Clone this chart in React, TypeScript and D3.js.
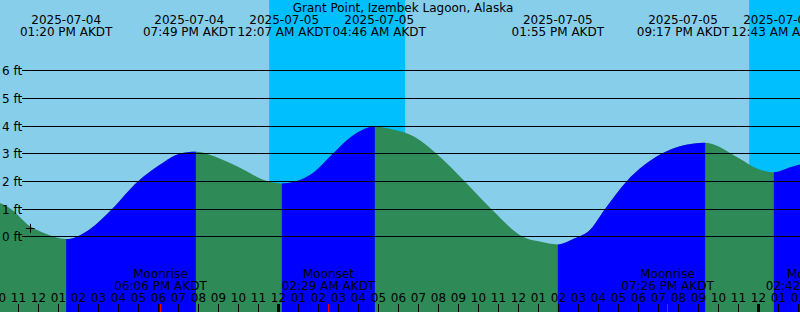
import React from "react";
import * as d3 from "d3";

const title = "Grant Point, Izembek Lagoon, Alaska";
const tz = "AKDT";

const domainStart = "2025-07-04 10:01:30";
const domainEnd = "2025-07-06 02:01:30";

const extremeTimes = ["2025-07-04 13:20", "2025-07-04 19:49", "2025-07-05 00:07", "2025-07-05 04:46", "2025-07-05 13:55", "2025-07-05 21:17", "2025-07-06 00:43"];
const extremeKinds = ["low", "high", "low", "high", "low", "high", "low"];

const curveTimes = [
  "2025-07-04 10:00", "2025-07-04 10:35", "2025-07-04 11:32", "2025-07-04 12:17", "2025-07-04 13:20",
  "2025-07-04 14:31", "2025-07-04 15:37", "2025-07-04 16:55", "2025-07-04 18:01", "2025-07-04 19:01",
  "2025-07-04 19:49", "2025-07-04 20:35", "2025-07-04 21:25", "2025-07-04 22:20", "2025-07-04 23:07", "2025-07-05 00:07", "2025-07-05 01:37",
  "2025-07-05 02:40", "2025-07-05 03:36", "2025-07-05 04:46", "2025-07-05 05:31", "2025-07-05 06:46",
  "2025-07-05 07:51", "2025-07-05 09:16", "2025-07-05 10:36", "2025-07-05 12:11", "2025-07-05 13:01",
  "2025-07-05 13:55", "2025-07-05 14:46", "2025-07-05 15:31", "2025-07-05 16:16", "2025-07-05 17:21",
  "2025-07-05 19:06", "2025-07-05 20:01", "2025-07-05 21:17", "2025-07-05 23:01", "2025-07-05 23:52",
  "2025-07-06 00:43", "2025-07-06 01:30", "2025-07-06 02:03",
];
const curveHeights = [
  1.23, 1.0, 0.38, 0.12, -0.08,
  0.28, 1.0, 2.0, 2.6, 3.0,
  3.07, 2.95, 2.7, 2.38, 2.08, 1.93, 2.28,
  3.0, 3.62, 3.98, 3.9, 3.6,
  3.0, 2.0, 1.0, 0.0, -0.17,
  -0.27, -0.05, 0.25, 1.0, 2.0,
  3.0, 3.27, 3.4, 2.82, 2.47,
  2.33, 2.5, 2.62,
];

const nightStarts = ["2025-07-04 23:29", "2025-07-05 23:29"];
const nightEnds = ["2025-07-05 06:17", "2025-07-06 06:17"];

const moonTimes = ["2025-07-04 18:06", "2025-07-05 02:29", "2025-07-05 19:26", "2025-07-06 02:42"];
const moonKinds = ["Moonrise", "Moonset", "Moonrise", "Moonset"];

const markerTime = "2025-07-04 11:32";
const markerHeight = 0.31;

const footTicks = [0, 1, 2, 3, 4, 5, 6];

const W = 800;
const H = 312;
const FONT = "DejaVu Sans, sans-serif";
const LABEL_W = 95;
const LEFT = 22;

// spread overlapping labels apart (cluster-mean placement), kept within [lo, hi]
function spread(ideals: number[], w: number, lo: number, hi: number): number[] {
  type C = { first: number; n: number; sum: number; p: number };
  const fix = (c: C) => {
    c.p = c.sum / c.n;
    c.p = Math.max(lo, Math.min(hi - (c.n - 1) * w, c.p));
  };
  const clusters: C[] = [];
  ideals.forEach((v, i) => {
    let c: C = { first: i, n: 1, sum: v, p: v };
    fix(c);
    while (clusters.length) {
      const prev = clusters[clusters.length - 1];
      if (prev.p + prev.n * w > c.p) {
        clusters.pop();
        const m: C = { first: prev.first, n: prev.n + c.n, sum: prev.sum + c.sum - c.n * prev.n * w, p: 0 };
        fix(m);
        c = m;
      } else break;
    }
    clusters.push(c);
  });
  const out: number[] = [];
  clusters.forEach((c) => {
    for (let k = 0; k < c.n; k++) out.push(c.p + k * w);
  });
  return out;
}

export default function App() {
  const parse = d3.timeParse("%Y-%m-%d %H:%M");
  const parseS = d3.timeParse("%Y-%m-%d %H:%M:%S");
  const t0 = parseS(domainStart) as Date;
  const t1 = parseS(domainEnd) as Date;
  const x = d3.scaleTime().domain([t0, t1]).range([0, W]);
  const y = d3.scaleLinear().domain([0, 6]).range([236.9, 70.6]);

  const pts = curveTimes.map((t, i) => ({ t: parse(t) as Date, h: curveHeights[i] }));
  const area = d3
    .area<{ t: Date; h: number }>()
    .x((d) => x(d.t))
    .y0(H)
    .y1((d) => y(d.h))
    .curve(d3.curveMonotoneX);

  const ext = extremeTimes.map((t, i) => ({ t: parse(t) as Date, kind: extremeKinds[i] }));
  const floods: [Date, Date][] = [];
  ext.forEach((e, i) => {
    if (e.kind === "low") {
      const next = ext[i + 1];
      floods.push([e.t, next ? next.t : t1]);
    }
  });
  const labelX = spread(ext.map((e) => x(e.t)), LABEL_W, LEFT, W - LEFT);

  const nights = nightStarts.map((s, i) => [parse(s) as Date, parse(nightEnds[i]) as Date]);
  const hours = d3.timeHour.range(d3.timeHour.floor(t0), t1);
  const fmtHour = d3.timeFormat("%I");
  const fmtDate = d3.timeFormat("%Y-%m-%d");
  const fmtTime = d3.timeFormat("%I:%M %p");
  const snap = (v: number) => Math.floor(v) - 0.5;

  const moons = moonTimes.map((t, i) => ({ t: parse(t) as Date, kind: moonKinds[i] }));
  const mx = x(parse(markerTime) as Date);
  const my = y(markerHeight);

  return (
    <svg width={W} height={H} style={{ position: "absolute", left: 0, top: 0 }} fontFamily={FONT} fontSize={12}>
      <defs>
        <clipPath id="water">
          <path d={area(pts) || ""} />
        </clipPath>
      </defs>
      <rect x={0} y={0} width={W} height={H} fill="#87CEEB" />
      {nights.map(([a, b], i) => (
        <rect key={i} x={x(a)} y={0} width={x(b) - x(a)} height={H} fill="#00BFFF" />
      ))}
      <g clipPath="url(#water)">
        <rect x={0} y={0} width={W} height={H} fill="#2E8B57" />
        {floods.map(([a, b], i) => (
          <rect key={i} x={x(a)} y={0} width={x(b) - x(a)} height={H} fill="#0000FF" />
        ))}
      </g>
      {footTicks.map((f) => {
        const yy = Math.floor(y(f)) + 0.5;
        return (
          <g key={f}>
            <line x1={LEFT} x2={W} y1={yy} y2={yy} stroke="#000" strokeWidth={1} />
            <text x={2} y={yy + 4.5} fill="#000">{`${f} ft`}</text>
          </g>
        );
      })}
      <text x={403} y={12} textAnchor="middle" fill="#000">{title}</text>
      {ext.map((e, i) => (
        <g key={i}>
          <text x={labelX[i]} y={24} textAnchor="middle" fill="#000">{fmtDate(e.t)}</text>
          <text x={labelX[i]} y={36} textAnchor="middle" fill="#000">{`${fmtTime(e.t)} ${tz}`}</text>
        </g>
      ))}
      {moons.map((m, i) => (
        <g key={i}>
          <text x={snap(x(m.t))} y={278} textAnchor="middle" fill="#000">{m.kind}</text>
          <text x={snap(x(m.t))} y={289.5} textAnchor="middle" fill="#000">{`${fmtTime(m.t)} ${tz}`}</text>
        </g>
      ))}
      {hours.map((h, i) => {
        const hx = snap(x(h));
        const midnight = h.getHours() === 0;
        return (
          <g key={i}>
            <text x={hx} y={302} textAnchor="middle" fill="#000">{fmtHour(h)}</text>
            <line x1={hx} x2={hx} y1={304} y2={H} stroke="#000" strokeWidth={midnight ? 3 : 1} />
          </g>
        );
      })}
      {moons.map((m, i) => {
        const rx = snap(x(m.t));
        return <line key={i} x1={rx} x2={rx} y1={304} y2={H} stroke="#FF0000" strokeWidth={1} />;
      })}
      <line x1={mx - 4.5} x2={mx + 4.5} y1={Math.floor(my) + 0.5} y2={Math.floor(my) + 0.5} stroke="#000" />
      <line x1={Math.floor(mx) + 0.5} x2={Math.floor(mx) + 0.5} y1={my - 4.5} y2={my + 4.5} stroke="#000" />
    </svg>
  );
}
